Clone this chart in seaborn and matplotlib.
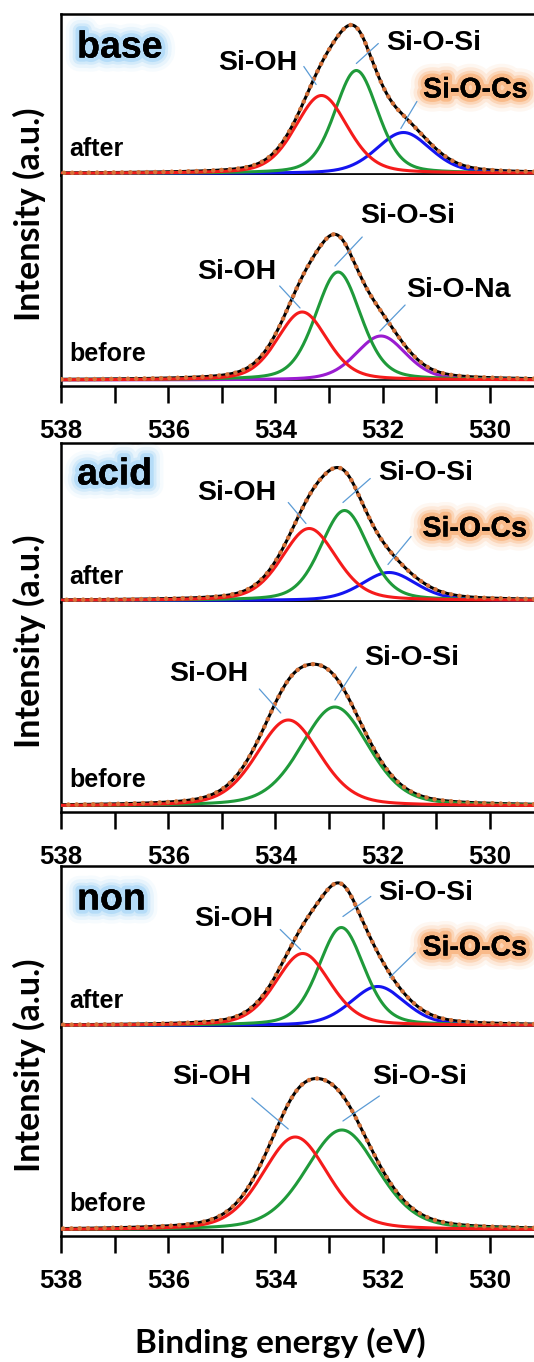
import numpy as np
import pandas as pd
import matplotlib
matplotlib.use('Agg')
import matplotlib.pyplot as plt
import matplotlib.patheffects as pe
import seaborn as sns

# ---- data --------------------------------------------------------------
# O 1s components: centre (eV), height (a.u.), FWHM (eV)
groups = ['base', 'acid', 'non']
states = ['after', 'before']

base_after_label = ['Si-OH', 'Si-O-Si', 'Si-O-Cs']
base_after_center = [533.14, 532.49, 531.61]
base_after_height = [78, 103, 41]
base_after_fwhm = [1.15, 0.95, 1.2]

base_before_label = ['Si-OH', 'Si-O-Si', 'Si-O-Na']
base_before_center = [533.50, 532.83, 532.03]
base_before_height = [68, 108, 44]
base_before_fwhm = [1.1, 1.0, 1.1]

acid_after_label = ['Si-OH', 'Si-O-Si', 'Si-O-Cs']
acid_after_center = [533.37, 532.71, 531.88]
acid_after_height = [72, 90, 28]
acid_after_fwhm = [1.2, 1.05, 1.2]

acid_before_label = ['Si-OH', 'Si-O-Si']
acid_before_center = [533.76, 532.89]
acid_before_height = [86, 99]
acid_before_fwhm = [1.4, 1.5]

non_after_label = ['Si-OH', 'Si-O-Si', 'Si-O-Cs']
non_after_center = [533.49, 532.77, 532.09]
non_after_height = [72, 98, 39]
non_after_fwhm = [1.2, 1.0, 1.2]

non_before_label = ['Si-OH', 'Si-O-Si']
non_before_center = [533.63, 532.76]
non_before_height = [93, 100]
non_before_fwhm = [1.45, 1.6]

xtick_major = [538, 536, 534, 532, 530]
xtick_minor = [537, 535, 533, 531]

spectra = {
    ('base', 'after'): (base_after_label, base_after_center, base_after_height, base_after_fwhm),
    ('base', 'before'): (base_before_label, base_before_center, base_before_height, base_before_fwhm),
    ('acid', 'after'): (acid_after_label, acid_after_center, acid_after_height, acid_after_fwhm),
    ('acid', 'before'): (acid_before_label, acid_before_center, acid_before_height, acid_before_fwhm),
    ('non', 'after'): (non_after_label, non_after_center, non_after_height, non_after_fwhm),
    ('non', 'before'): (non_before_label, non_before_center, non_before_height, non_before_fwhm),
}

# ---- style ----------------------------------------------------------------
colors = {'Si-OH': '#f51b1b', 'Si-O-Si': '#1f9a3a', 'Si-O-Cs': '#1414f0', 'Si-O-Na': '#9a1cd0'}
fit_color = '#d6733a'
leader_color = '#5b9bd5'

# callouts: text position, leader start, leader end (data coords)
callouts = {
    ('base', 'after'): [('Si-OH', (534.33, 110), (533.47, 107), (533.24, 89)),
                        ('Si-O-Si', (531.04, 131), (532.08, 130), (532.49, 110)),
                        ('Si-O-Cs', (530.27, 83), (531.36, 72), (531.66, 45))],
    ('base', 'before'): [('Si-OH', (534.72, 108), (533.92, 94), (533.54, 72)),
                         ('Si-O-Si', (531.54, 164), (532.38, 143), (532.89, 114)),
                         ('Si-O-Na', (530.58, 90), (531.58, 75), (532.05, 49))],
    ('acid', 'after'): [('Si-OH', (534.72, 108), (533.76, 98), (533.43, 77)),
                        ('Si-O-Si', (531.19, 128), (532.23, 122), (532.74, 98)),
                        ('Si-O-Cs', (530.28, 71), (531.47, 64), (531.90, 36))],
    ('acid', 'before'): [('Si-OH', (535.24, 132), (534.30, 117), (533.90, 93)),
                         ('Si-O-Si', (531.45, 148), (532.49, 139), (532.89, 106))],
    ('non', 'after'): [('Si-OH', (534.77, 106), (533.91, 96), (533.53, 76)),
                       ('Si-O-Si', (531.19, 133), (532.22, 129), (532.74, 109)),
                       ('Si-O-Cs', (530.28, 77), (531.39, 73), (531.87, 48))],
    ('non', 'before'): [('Si-OH', (535.19, 153), (534.44, 132), (533.76, 101)),
                        ('Si-O-Si', (531.30, 153), (532.06, 134), (532.74, 109))],
}

sns.set_style('white')
plt.rcParams['font.family'] = ['Liberation Sans', 'DejaVu Sans']
plt.rcParams['font.weight'] = 'bold'
plt.rcParams['text.color'] = 'black'
plt.rcParams['xtick.color'] = 'black'
plt.rcParams['xtick.labelcolor'] = 'black'


def pseudo_voigt(x, c, h, w, eta=0.3):
    u = 4 * ((x - c) / w) ** 2
    return h * (eta / (1 + u) + (1 - eta) * np.exp(-np.log(2) * u))


def glow(color):
    return [pe.withStroke(linewidth=20, foreground=color, alpha=0.08),
            pe.withStroke(linewidth=15, foreground=color, alpha=0.14),
            pe.withStroke(linewidth=10, foreground=color, alpha=0.25),
            pe.withStroke(linewidth=6, foreground=color, alpha=0.45),
            pe.Normal()]


W, H = 534, 1362
left_px, right_px = 61, 534
tops = [14, 443, 866]
seps = [175, 602, 1027]
bottoms = [386, 812, 1236]
pad_before = 6
x_lo = 538 - (right_px - left_px) / 53.6

energy = np.linspace(x_lo, 538, 700)

fig = plt.figure(figsize=(W / 100, H / 100), dpi=100)

for gi, group in enumerate(groups):
    for state in states:
        if state == 'after':
            y0, y1 = tops[gi], seps[gi]
            ylim = (-1.5, y1 - y0 - 1.5)
        else:
            y0, y1 = seps[gi], bottoms[gi]
            ylim = (-pad_before, y1 - y0 - pad_before)
        ax = fig.add_axes([left_px / W, 1 - y1 / H, (right_px - left_px) / W, (y1 - y0) / H])

        labels, centers, heights, fwhms = spectra[(group, state)]
        rows = []
        for lab, c, h, w in zip(labels, centers, heights, fwhms):
            rows.append(pd.DataFrame({'energy': energy, 'intensity': pseudo_voigt(energy, c, h, w), 'component': lab}))
        df = pd.concat(rows, ignore_index=True)
        envelope = df.groupby('energy', sort=True)['intensity'].sum().reset_index()

        # background line
        ax.axhline(0, color='black', lw=1.2, zorder=1)
        # measured envelope
        sns.lineplot(data=envelope, x='energy', y='intensity', ax=ax, color='black', lw=2.2,
                     estimator=None, errorbar=None, zorder=3)
        # components
        for lab in labels[::-1]:
            sns.lineplot(data=df[df['component'] == lab], x='energy', y='intensity', ax=ax,
                         color=colors[lab], lw=2.2, estimator=None, errorbar=None, zorder=4)
        # fitted sum (dotted)
        sns.lineplot(data=envelope, x='energy', y='intensity', ax=ax, color=fit_color, lw=3.3,
                     linestyle=(0, (0.01, 1.8)), dash_capstyle='round',
                     estimator=None, errorbar=None, zorder=5)

        for lab, txy, p0, p1 in callouts[(group, state)]:
            t = ax.text(txy[0], txy[1], lab, ha='center', va='center', fontsize=20.5,
                        fontweight='bold', color='black', zorder=6)
            if lab == 'Si-O-Cs':
                t.set_path_effects(glow('#f89a52'))
            ax.plot([p0[0], p1[0]], [p0[1], p1[1]], color=leader_color, lw=0.9, zorder=6)

        ax.text(537.84, 24 if state == 'after' else 26, state, ha='left', va='center',
                fontsize=18, fontweight='bold', color='black', zorder=6)
        if state == 'after':
            ax.text(537.7, 126, group, ha='left', va='center', fontsize=27, color='black',
                    fontweight='bold', path_effects=glow('#93cdf6'), zorder=6)

        ax.set_xlim(538, x_lo)
        ax.set_ylim(*ylim)
        ax.set_xlabel('')
        ax.set_ylabel('')
        ax.set_yticks([])
        for side in ['left', 'top', 'bottom']:
            ax.spines[side].set_linewidth(1.8)
            ax.spines[side].set_color('black')
        ax.spines['right'].set_visible(False)
        if state == 'after':
            ax.set_xticks([])
        else:
            ax.spines['top'].set_visible(False)
            ax.set_xticks(xtick_major)
            ax.set_xticks(xtick_minor, minor=True)
            ax.set_xticklabels([str(v) for v in xtick_major], fontsize=18.5, fontweight='bold')
            ax.tick_params(axis='x', which='both', direction='out', length=12, width=1.8,
                           bottom=True, color='black', pad=12)

    yc = (tops[gi] + bottoms[gi]) / 2 + 14
    fig.text(29 / W, 1 - yc / H, 'Intensity (a.u.)', rotation=90, ha='center', va='center',
             fontsize=24.5, fontweight='bold', color='black', family=['Lato', 'DejaVu Sans'])

fig.text(280 / W, 1 - 1353 / H, 'Binding energy (eV)', ha='center', va='baseline',
         fontsize=24, fontweight='bold', color='black', family=['Lato', 'DejaVu Sans'])

fig.savefig('out.png', dpi=100)
